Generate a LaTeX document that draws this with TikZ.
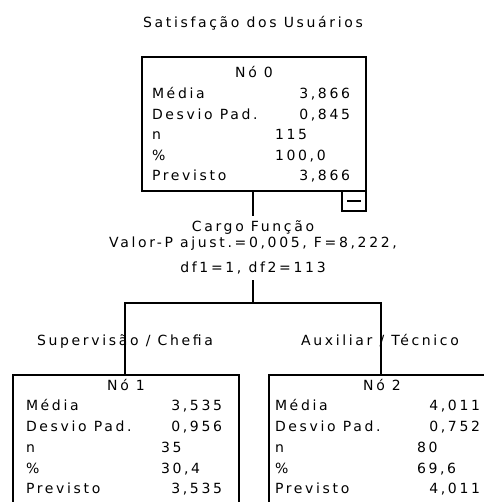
\documentclass[tikz,border=0pt]{standalone}
\usepackage{fontspec}
\setmainfont{DejaVu Sans}[LetterSpace=19]
\begin{document}
\begin{tikzpicture}[x=1pt,y=-1pt,
  every node/.style={inner sep=0pt,outer sep=0pt},
  txt/.style={font=\fontsize{14}{16}\selectfont},
  lbl/.style={txt,anchor=base west},
  val/.style={txt,anchor=base east},
  mid/.style={txt,anchor=base},
  nodebox/.style={draw,line width=1.6pt,minimum width=226pt,minimum height=150pt,anchor=north west},
  link/.style={line width=1.6pt}]
\useasboundingbox (0,0) rectangle (483,502);
\fill[white] (0,0) rectangle (483,502);
% title
\node[mid] (title) at (253,28) {Satisfação dos Usuários};
% root box
\node[draw,line width=1.6pt,minimum width=224pt,minimum height=134pt,anchor=north west] (box0) at (142,57) {};
\node[mid] (n0h) at (254,78) {Nó 0};
\node[lbl] (n0a) at (152,99) {Média};
\node[val] (n0av) at (350,99) {3,866};
\node[lbl] (n0b) at (152,120) {Desvio Pad.};
\node[val] (n0bv) at (350,120) {0,845};
\node[lbl] (n0c) at (152,140) {n};
\node[lbl] (n0cv) at (275,140) {115};
\node[lbl] (n0d) at (152,161) {\%};
\node[lbl] (n0dv) at (275,161) {100,0};
\node[lbl] (n0e) at (152,181) {Previsto};
\node[val] (n0ev) at (350,181) {3,866};
% collapse button
\node[draw,line width=1.6pt,minimum width=24pt,minimum height=20pt,anchor=north east] (btn) at (box0.south east) {};
\draw[line width=1.6pt] ([xshift=-7pt]btn.center) -- ([xshift=7pt]btn.center);
% split label
\node[mid] (sp1) at (253,232) {Cargo Função};
\node[mid] (sp2) at (253,247) {Valor-P ajust.=0,005, F=8,222,};
\node[mid] (sp3) at (253,272) {df1=1, df2=113};
\coordinate (sN) at (253,216);
\coordinate (sS) at (253,280);
\coordinate (hub) at (253,303);
% child boxes
\node[nodebox] (box1) at (13,375) {};
\node[nodebox] (box2) at (269,375) {};
% connectors
\draw[link] (box0.south -| sN) -- (sN);
\draw[link] (sS) -- (hub);
\draw[link] (hub) -| ([xshift=-1pt]box1.north);
\draw[link] (hub) -| ([xshift=-1pt]box2.north);
% edge labels
\node[mid] (e1) at (125,345) {Supervisão / Chefia};
\node[mid] (e2) at (380,345) {Auxiliar / Técnico};
% node 1
\node[mid] (n1h) at (126,390) {Nó 1};
\node[lbl] (n1a) at (26,410) {Média};
\node[val] (n1av) at (222,410) {3,535};
\node[lbl] (n1b) at (26,431) {Desvio Pad.};
\node[val] (n1bv) at (222,431) {0,956};
\node[lbl] (n1c) at (26,452) {n};
\node[lbl] (n1cv) at (161,452) {35};
\node[lbl] (n1d) at (26,473) {\%};
\node[lbl] (n1dv) at (161,473) {30,4};
\node[lbl] (n1e) at (26,493) {Previsto};
\node[val] (n1ev) at (222,493) {3,535};
% node 2
\node[mid] (n2h) at (382,390) {Nó 2};
\node[lbl] (n2a) at (275,410) {Média};
\node[val] (n2av) at (480,410) {4,011};
\node[lbl] (n2b) at (275,431) {Desvio Pad.};
\node[val] (n2bv) at (480,431) {0,752};
\node[lbl] (n2c) at (275,452) {n};
\node[lbl] (n2cv) at (417,452) {80};
\node[lbl] (n2d) at (275,473) {\%};
\node[lbl] (n2dv) at (417,473) {69,6};
\node[lbl] (n2e) at (275,493) {Previsto};
\node[val] (n2ev) at (480,493) {4,011};
\end{tikzpicture}
\end{document}
